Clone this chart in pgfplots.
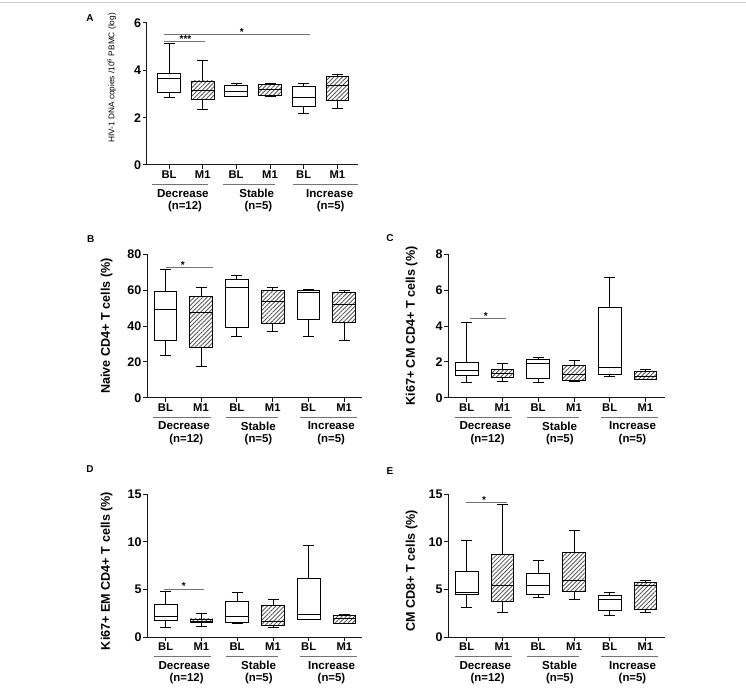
\documentclass[border=0pt]{standalone}
\usepackage{fontspec}
\setmainfont{Liberation Sans}
\usepackage{pgfplots}
\pgfplotsset{compat=1.18}
\usepgfplotslibrary{statistics}
\usetikzlibrary{patterns.meta}

\newcommand{\fs}[1]{\fontsize{#1}{#1}\selectfont}

\pgfplotsset{
  panel/.style={
    scale only axis, clip=false, enlargelimits=false,
    axis x line=bottom, axis y line=left,
    axis line style={-, line width=1pt, black!90},
    xmin=0, ymin=0,
    tick align=outside, major tick length=4pt,
    tick style={line width=1pt, black!90},
    minor tick num=0,
    xticklabels={BL,M1,BL,M1,BL,M1},
    xticklabel style={font=\fs{11.2}\bfseries, inner sep=1.5pt},
    yticklabel style={font=\fs{12.5}\bfseries, inner sep=1.5pt},
    /pgf/number format/assume math mode=true,
    ylabel style={font=\fs{12.6}\bfseries, anchor=center},
    boxplot/draw direction=y,
    anchor=south west,
  },
  wbox/.style={draw=black, fill=white, line width=0.9pt, solid},
  hbox/.style={draw=black, line width=0.9pt, solid,
    pattern={Lines[angle=45,distance=3pt,line width=0.85pt]}, pattern color=black!65},
  sig/.style={black!55, line width=1pt, no markers},
}

% style, position, lw, lq, med, uq, uw
\newcommand{\bx}[7]{\addplot[#1, boxplot prepared={draw position=#2,
  lower whisker=#3, lower quartile=#4, median=#5, upper quartile=#6,
  upper whisker=#7, box extend=22.6, whisker extend=11, draw direction=y}] coordinates {};}

% underline a, b; text x; n x; name; n
\newcommand{\glab}[6]{%
  \draw[black!55, line width=0.9pt] ([yshift=-19.6pt]axis cs:#1,0) -- ([yshift=-19.6pt]axis cs:#2,0);
  \node[font=\fs{11.6}\bfseries] at ([yshift=-28.3pt]axis cs:#3,0) {#5};
  \node[font=\fs{11.4}\bfseries] at ([yshift=-41.6pt]axis cs:#4,0) {#6};
}
\newcommand{\glabBE}{%
  \glab{6.3}{64}{37}{39.3}{Decrease}{(n=12)}
  \glab{79}{130.7}{111.3}{111.5}{Stable}{(n=5)}
  \glab{153}{209.7}{184.3}{184.2}{Increase}{(n=5)}
}

\begin{document}
\begin{tikzpicture}
\path[use as bounding box] (0pt,0pt) rectangle (746pt,691pt);
\draw[black!20, line width=0.8pt] (0pt,689pt) -- (746pt,689pt);

% ---------------- Panel A ----------------
\begin{axis}[panel, at={(146.7pt,526pt)}, width=211.3pt, height=142pt,
  xmax=211.3, ymax=6, ytick={0,2,4,6},
  xtick={22.3,56,89.3,123.3,157,190.6},
  ylabel={HIV-1 DNA copies /10\textsuperscript{6} PBMC (log)},
  ylabel style={font=\fs{8.3}, at={([xshift=-35pt]axis description cs:0,0.613)}}]
\bx{wbox}{22.3}{2.85}{3.07}{3.64}{3.88}{5.15}
\bx{hbox}{56}{2.33}{2.79}{3.13}{3.55}{4.41}
\bx{wbox}{89.3}{2.89}{2.90}{3.10}{3.38}{3.44}
\bx{hbox}{123.3}{2.88}{2.92}{3.20}{3.41}{3.44}
\bx{wbox}{157}{2.19}{2.49}{2.86}{3.31}{3.45}
\bx{hbox}{190.6}{2.37}{2.72}{3.35}{3.76}{3.82}
\addplot[sig] coordinates {(17.3,5.51) (163.3,5.51)};
\addplot[sig] coordinates {(17.3,5.21) (58.3,5.21)};
\node[font=\fs{10}\bfseries, yshift=3pt] at (axis cs:95,5.51) {*};
\node[font=\fs{10}\bfseries, yshift=3pt] at (axis cs:38.8,5.21) {***};
\glab{5}{61.6}{36.2}{38.3}{Decrease}{(n=12)}
\glab{76.6}{128.3}{110}{111.7}{Stable}{(n=5)}
\glab{146.6}{211}{183}{184}{Increase}{(n=5)}
\end{axis}

% ---------------- Panel B ----------------
\begin{axis}[panel, at={(147pt,293.3pt)}, width=215pt, height=143.4pt,
  xmax=215, ymax=80, ytick={0,20,40,60,80},
  xtick={18.4,54,89.8,125.7,161.4,197.1},
  ylabel={Naive CD4+ T cells (\%)},
  ylabel style={at={([xshift=-40.3pt]axis description cs:0,0.5)}}]
\bx{wbox}{18.4}{23.3}{32.2}{49.3}{59.2}{71.6}
\bx{hbox}{54}{17.7}{27.9}{47.8}{56.7}{61.4}
\bx{wbox}{89.8}{34.4}{39.1}{61.6}{65.7}{68.3}
\bx{hbox}{125.7}{36.8}{41.3}{53.8}{59.7}{61.4}
\bx{wbox}{161.4}{34.0}{43.9}{58.8}{60.1}{60.5}
\bx{hbox}{197.1}{32.2}{41.9}{52.3}{58.6}{59.7}
\addplot[sig] coordinates {(18.7,72.6) (66.3,72.6)};
\node[font=\fs{10}\bfseries, yshift=3pt] at (axis cs:35.7,72.6) {*};
\glabBE
\end{axis}

% ---------------- Panel C ----------------
\begin{axis}[panel, at={(448.3pt,293.3pt)}, width=216.7pt, height=143.4pt,
  xmax=216.7, ymax=8, ytick={0,2,4,6,8},
  xtick={18.4,54,89.8,125.7,161.4,197.1},
  ylabel={Ki67+ CM CD4+ T cells (\%)},
  ylabel style={at={([xshift=-36.6pt]axis description cs:0,0.5)}}]
\bx{wbox}{18.4}{0.83}{1.22}{1.54}{1.97}{4.22}
\bx{hbox}{54}{0.93}{1.11}{1.36}{1.58}{1.93}
\bx{wbox}{89.8}{0.86}{1.08}{1.91}{2.13}{2.24}
\bx{hbox}{125.7}{0.93}{0.98}{1.30}{1.78}{2.06}
\bx{wbox}{161.4}{1.17}{1.32}{1.67}{5.02}{6.69}
\bx{hbox}{197.1}{1.02}{1.04}{1.21}{1.45}{1.60}
\addplot[sig] coordinates {(21.7,4.41) (57.4,4.41)};
\node[font=\fs{10}\bfseries, yshift=3pt] at (axis cs:37.4,4.41) {*};
\glabBE
\end{axis}

% ---------------- Panel D ----------------
\begin{axis}[panel, at={(147.3pt,53.7pt)}, width=215pt, height=143.3pt,
  xmax=215, ymax=15, ytick={0,5,10,15},
  xtick={18.4,54,89.8,125.7,161.4,197.1},
  ylabel={Ki67+ EM CD4+ T cells (\%)},
  ylabel style={at={([xshift=-40.6pt]axis description cs:0,0.463)}}]
\bx{wbox}{18.4}{1.01}{1.81}{2.16}{3.45}{4.77}
\bx{hbox}{54}{1.11}{1.53}{1.71}{1.92}{2.51}
\bx{wbox}{89.8}{1.46}{1.53}{2.16}{3.73}{4.67}
\bx{hbox}{125.7}{1.05}{1.22}{1.64}{3.31}{4.01}
\bx{wbox}{161.4}{1.85}{1.92}{2.40}{6.17}{9.66}
\bx{hbox}{197.1}{1.46}{1.47}{1.95}{2.26}{2.40}
\addplot[sig] coordinates {(16.6,5.02) (56.6,5.02)};
\node[font=\fs{10}\bfseries, yshift=3pt] at (axis cs:36.6,5.02) {*};
\glabBE
\end{axis}

% ---------------- Panel E ----------------
\begin{axis}[panel, at={(448.3pt,53.7pt)}, width=216.7pt, height=143.3pt,
  xmax=216.7, ymax=15, ytick={0,5,10,15},
  xtick={18.4,54,89.8,125.7,161.4,197.1},
  ylabel={CM CD8+ T cells (\%)},
  ylabel style={at={([xshift=-36.6pt]axis description cs:0,0.463)}}]
\bx{wbox}{18.4}{3.17}{4.50}{4.71}{6.94}{10.19}
\bx{hbox}{54}{2.65}{3.80}{5.48}{8.65}{13.95}
\bx{wbox}{89.8}{4.19}{4.53}{5.40}{6.73}{8.09}
\bx{hbox}{125.7}{3.98}{4.78}{6.00}{8.90}{11.23}
\bx{wbox}{161.4}{2.26}{2.86}{4.01}{4.36}{4.67}
\bx{hbox}{197.1}{2.62}{2.93}{5.48}{5.76}{5.97}
\addplot[sig] coordinates {(17.4,14.09) (58.4,14.09)};
\node[font=\fs{10}\bfseries, yshift=3pt] at (axis cs:35.7,14.09) {*};
\glabBE
\end{axis}

% panel letters
\node[font=\fs{10}\bfseries] at (90pt,672.7pt) {A};
\node[font=\fs{10}\bfseries] at (90.7pt,451.7pt) {B};
\node[font=\fs{10}\bfseries] at (390pt,452.7pt) {C};
\node[font=\fs{10}\bfseries] at (90pt,222pt) {D};
\node[font=\fs{10}\bfseries] at (390pt,220.3pt) {E};
\end{tikzpicture}
\end{document}
